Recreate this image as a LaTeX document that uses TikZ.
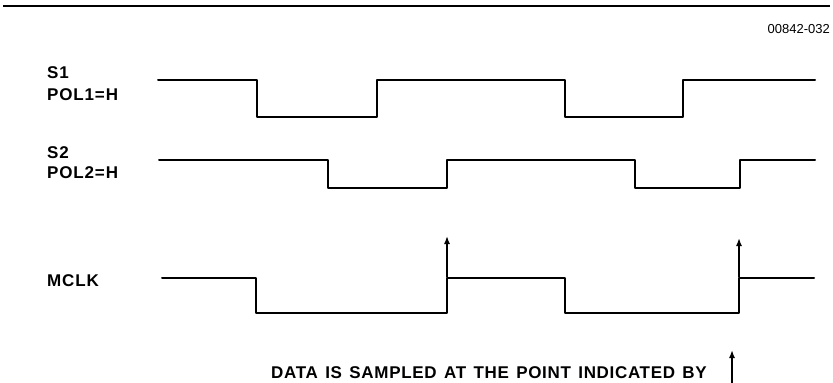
\documentclass[tikz,border=0pt]{standalone}
\usepackage{fontspec}
\setmainfont{Liberation Sans}
\usetikzlibrary{arrows.meta}
\begin{document}
\begin{tikzpicture}[x=1pt,y=-1pt,
  wave/.style={line width=2pt,line join=round,line cap=round},
  lbl/.style={anchor=base west,inner sep=0pt,font=\fontsize{17}{20}\selectfont\bfseries\addfontfeatures{LetterSpace=5}},
  samp/.style={line width=1.5pt,-{Latex[length=8pt,width=6pt]}}]
\useasboundingbox (0,0) rectangle (833,383);
% top rule and figure number
\draw[line width=2.6pt] (3,6) -- (830,6);
\node[anchor=base east,inner sep=0pt,font=\fontsize{13}{15}\selectfont] (fig) at (830,33) {00842-032};
% labels
\node[lbl] (s1) at (47,78) {S1};
\node[lbl] (p1) at (47,100) {POL1=H};
\node[lbl] (s2) at (47,158) {S2};
\node[lbl] (p2) at (47,178) {POL2=H};
\node[lbl] (mclk) at (47,286) {MCLK};
% S1
\draw[wave] (158,80) -- (257,80) -- (257,117) -- (377,117) -- (377,80) -- (565,80) -- (565,117) -- (683,117) -- (683,80) -- (815,80);
% S2
\draw[wave] (159,160) -- (328,160) -- (328,188) -- (447,188) -- (447,160) -- (635,160) -- (635,188) -- (740,188) -- (740,160) -- (815,160);
% MCLK
\draw[wave] (162,278) -- (256,278) -- (256,313) -- (447,313) -- (447,278) -- (565,278) -- (565,313) -- (739,313) -- (739,278) -- (814,278);
% sample arrows
\coordinate (r1) at (447,277);
\coordinate (a1) at (447,236);
\coordinate (r2) at (739,277);
\coordinate (a2) at (739,238);
\draw[samp] (r1) -- (a1);
\draw[samp] (r2) -- (a2);
% bottom note
\node[anchor=base west,inner sep=0pt,font=\fontsize{17}{20}\selectfont\bfseries\addfontfeatures{LetterSpace=4}] (note) at (271,378) {\spaceskip=7.4pt\relax DATA IS SAMPLED AT THE POINT INDICATED BY};
\coordinate (b0) at (732,383);
\coordinate (b1) at (732,350);
\draw[samp] (b0) -- (b1);
\end{tikzpicture}
\end{document}
